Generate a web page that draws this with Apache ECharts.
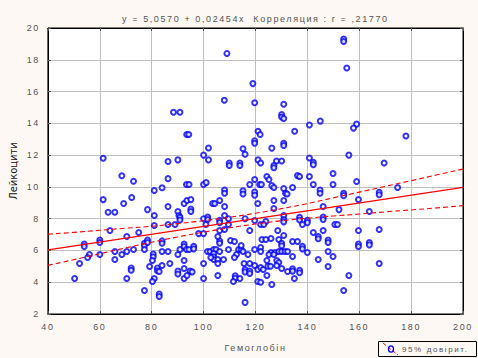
<!DOCTYPE html>
<html><head><meta charset="utf-8">
<script src="https://cdn.jsdelivr.net/npm/echarts@6/dist/echarts.min.js"></script>
<style>
html,body{margin:0;padding:0;background:#fdf8f4;}
#c{width:478px;height:358px;}
text[style*="Liberation Sans Narrow"]{letter-spacing:1.6px;}
</style></head>
<body><div id="c"></div>
<script>
const hemoglobin = [
109,119,108,119.7,88.4,90.9,93.5,94.3,121,121.8,119.7,119.7,101.9,115.2,116,100,101.9,61.3,86.3,90.1,109.9,109.9,114,114,121,122,
68.5,73,93.4,94.4,100,101,84,81,108.1,108.1,115.2,115.2,119.7,119.7,119.7,117.8,121.6,61.3,63.2,65.8,69.2,72.3,78.4,86.3,86.3,90.1,90.5,92.5,93.6,95.1,95.1,95.1,81,81,90.9,90.9,86.3,89,63.9,70.4,75,100,101.6,101.6,98.1,100,100.9,103.5,104.3,106.2,108.1,106.2,106.2,108.1,109.6,109.6,106.2,108.1,116,117.8,119.7,122,120.9,
54,54,56,55.3,52.2,50.3,60,60,60,65.8,65.8,68.5,70.4,73,70.4,77.2,77.2,78.4,78.4,77.2,80.6,80.6,80.3,79.2,81,80.3,77.2,82.9,82.9,84,84,82.2,82.2,82.9,84,84,86.3,87,90.1,90.9,92.5,92.5,93.4,94.4,96.2,96.2,92.5,90.1,90.1,92.5,94.8,95.6,92.5,93.6,100,100,101.5,102.5,103.9,104.8,103.9,103.9,103.9,102.8,105.5,106.2,105.5,107.7,106.2,106.2,105.5,105.5,110.4,111.9,109.6,113.5,114.5,112.7,111.9,114.5,115.2,117.1,119.7,122,122,115.6,116,116,117.8,117.8,117.8,119.7,120.9,122,112.2,112.2,114,111.5,120.9,122,116,72.1,72.1,
154,154,155.2,130.9,130.1,130.1,130.9,145,140.8,159,157.8,135.1,126.3,130.9,130.9,178,140.8,142.3,142.3,156,169.6,128.1,130.1,127.1,127.1,
124.4,125.2,122.3,126.3,127.1,136.2,137,140.8,149.9,142.3,149.9,159,174.8,130.9,130.9,131.6,132.2,134.3,127.1,127.1,144.9,144.9,154,154,167.7,167.7,159.7,146.1,152.2,163.9,130.9,130.9,130.9,137,137,140,140,138.1,146.1,146.1,150.6,151.6,124,123.2,142.3,144.2,144.2,146.1,148,148,159.7,159.7,159.7,163.9,163.9,167.7,128.6,130.9,122.5,124,126,129,130.1,130.1,134.3,136.2,138.1,138.1,140,148,149.9,126,127.5,129,130.1,131.4,132.4,125.2,127.1,124.4,128.2,129,134.3,123,124.8,125.8,128.2,130.1,132.4,134.3,134.3,137,137,135,144.2,148,156,167.7,124.4,126.3,154
];
const leukocytes = [
18.4,16.5,15.45,15.3,14.7,14.7,13.3,13.3,13.5,13.3,12.9,12.75,12.45,12.4,12.05,12.0,11.7,11.8,11.6,11.7,11.5,11.35,11.5,11.35,11.7,11.5,
10.7,10.35,10.15,10.15,10.15,10.27,9.95,9.77,9.8,9.6,9.75,9.55,9.68,9.48,10.46,10.15,10.15,9.2,8.4,8.4,8.95,9.33,8.57,10.52,8.76,8.45,8.2,8.95,9.14,9.2,8.6,8.45,8.2,7.57,8.08,7.92,7.63,7.63,7.25,6.88,7.13,8.0,8.1,7.95,7.06,7.06,7.63,8.95,8.95,9.14,8.76,7.9,7.75,8.2,8.0,7.63,7.25,7.32,8.0,7.25,7.88,7.63,8.95,
6.4,6.25,5.74,5.56,5.18,4.23,6.65,6.5,5.74,5.93,5.43,5.74,5.93,6.06,4.23,6.45,6.3,6.65,6.5,6.06,5.78,5.6,5.37,4.99,4.23,4.05,3.48,3.25,3.1,6.6,6.45,4.9,4.72,4.67,5.05,5.93,5.93,5.18,5.74,6.06,6.4,6.25,6.06,6.06,6.26,6.1,5.37,4.7,4.52,4.86,4.7,4.65,4.23,4.42,5.18,4.23,5.93,5.93,6.06,6.06,5.8,5.6,5.43,5.56,5.43,5.93,5.18,5.43,6.6,6.45,6.88,4.42,6.62,6.56,6.06,6.06,6.06,5.74,5.56,6.31,5.93,5.74,6.06,6.18,5.93,5.18,4.8,4.65,5.18,4.7,4.55,5.05,4.8,4.93,4.4,4.25,4.23,4.05,4.05,4.0,2.73,4.9,4.75,
19.3,19.15,17.48,15.2,14.55,14.4,14.3,14.14,13.89,13.95,13.7,13.5,12.44,12.75,12.6,13.2,11.82,11.55,11.4,12.0,11.5,11.63,11.63,11.35,11.2,
10.65,10.46,10.15,10.08,9.96,10.71,10.65,10.65,10.84,10.15,10.15,10.34,9.96,9.9,9.14,9.6,9.55,9.96,9.14,8.64,9.8,9.6,9.6,9.45,9.66,9.5,9.2,8.76,8.57,8.45,8.2,7.95,7.8,8.08,7.92,7.9,7.75,7.63,8.1,7.95,7.63,7.63,7.82,7.63,7.13,6.88,6.74,7.25,6.65,6.5,7.25,6.4,6.25,6.5,6.35,7.32,7.25,6.94,6.69,6.69,6.75,6.69,6.45,6.3,6.56,6.56,6.26,6.1,5.87,5.93,5.62,5.87,5.87,5.93,5.93,5.93,5.93,5.74,5.74,5.37,5.37,5.24,5.62,4.8,5.0,5.0,5.05,4.86,4.67,4.85,4.7,4.75,4.6,4.23,5.43,4.99,4.42,5.18,4.42,3.86,3.48
];
const fitX = [40, 200];
const fitY = [6.04, 9.965];
const bandX = [40,50,60,70,80,90,100,110,120,130,140,150,160,170,180,190,200];
const bandUpper = [7.02,7.14,7.27,7.40,7.52,7.69,7.87,8.09,8.34,8.63,8.95,9.31,9.67,10.03,10.39,10.76,11.12];
const bandLower = [5.06,5.42,5.79,6.16,6.52,6.85,7.15,7.43,7.66,7.87,8.03,8.17,8.29,8.43,8.55,8.68,8.82];
const titleText = 'y = 5,0570 + 0,02454x  Корреляция : r = ,21770';
const xName = 'Гемоглобін';
const yName = 'Лейкоцити';
const legendText = '95% довірит.';

const spacedFont = "'Liberation Sans Narrow', 'Liberation Sans', sans-serif";
const pts = hemoglobin.map((x, i) => [x, leukocytes[i]]);
const zip = (a, b) => a.map((v, i) => [v, b[i]]);

const chart = echarts.init(document.getElementById('c'), null, {renderer: 'svg'});
const tickStyle = {show: true, inside: true, length: 3, lineStyle: {color: '#555'}};
chart.setOption({
  backgroundColor: '#fdf8f4',
  animation: false,
  title: {text: titleText, left: 117, top: 9,
    textStyle: {fontSize: 9, fontWeight: 'normal', color: '#555', fontFamily: spacedFont}},
  grid: {left: 43, right: 15, top: 28, bottom: 44, show: true, backgroundColor: '#fff', borderColor: '#000', borderWidth: 1},
  xAxis: [{
    type: 'value', min: 40, max: 200, interval: 20, position: 'bottom',
    name: xName, nameLocation: 'middle', nameGap: 29,
    nameTextStyle: {fontSize: 9, color: '#555', fontFamily: spacedFont},
    axisLine: {lineStyle: {color: '#000'}}, axisTick: tickStyle,
    axisLabel: {fontSize: 9, color: '#555', margin: 8, fontFamily: spacedFont},
    splitLine: {lineStyle: {color: '#c0c0c0', width: 1}}
  }, {
    type: 'value', min: 40, max: 200, interval: 20, position: 'top',
    axisLine: {lineStyle: {color: '#000'}}, axisTick: tickStyle,
    axisLabel: {show: false}, splitLine: {show: false}
  }],
  yAxis: [{
    type: 'value', min: 2, max: 20, interval: 2, position: 'left',
    name: yName, nameLocation: 'middle', nameGap: 26, nameRotate: 90,
    nameTextStyle: {fontSize: 11, color: '#111', fontFamily: 'DejaVu Sans Condensed, sans-serif'},
    axisLine: {lineStyle: {color: '#000'}}, axisTick: tickStyle,
    axisLabel: {fontSize: 9, color: '#555', margin: 8, fontFamily: spacedFont},
    splitLine: {lineStyle: {color: '#c0c0c0', width: 1}}
  }, {
    type: 'value', min: 2, max: 20, interval: 2, position: 'right',
    axisLine: {lineStyle: {color: '#000'}}, axisTick: tickStyle,
    axisLabel: {show: false}, splitLine: {show: false}
  }],
  series: [
    {type: 'scatter', data: pts, symbol: 'emptyCircle', symbolSize: 5,
     itemStyle: {color: '#0000ff', borderColor: '#0000ff', borderWidth: 1}, z: 3},
    {type: 'line', data: zip(fitX, fitY), showSymbol: false, lineStyle: {color: '#ff0000', width: 1.2}, z: 4},
    {type: 'line', data: zip(bandX, bandUpper), showSymbol: false, smooth: true, lineStyle: {color: '#ff0000', width: 1.1, type: [5, 3]}, z: 4},
    {type: 'line', data: zip(bandX, bandLower), showSymbol: false, smooth: true, lineStyle: {color: '#ff0000', width: 1.1, type: [5, 3]}, z: 4}
  ],
  graphic: [
    {type: 'rect', shape: {x: 378.5, y: 341.5, width: 98, height: 15}, style: {fill: '#fdf8f4', stroke: '#000', lineWidth: 1}},
    {type: 'line', shape: {x1: 383, y1: 343, x2: 398, y2: 355}, style: {stroke: '#ff0000', lineWidth: 1, lineDash: [4, 2]}},
    {type: 'ellipse', shape: {cx: 391, cy: 349, rx: 2.5, ry: 3.2}, style: {fill: 'none', stroke: '#0000ff', lineWidth: 1.3}},
    {type: 'text', x: 402, y: 349, style: {text: legendText, fontSize: 8, fill: '#555', fontFamily: spacedFont, verticalAlign: 'middle'}}
  ]
});
</script></body></html>
